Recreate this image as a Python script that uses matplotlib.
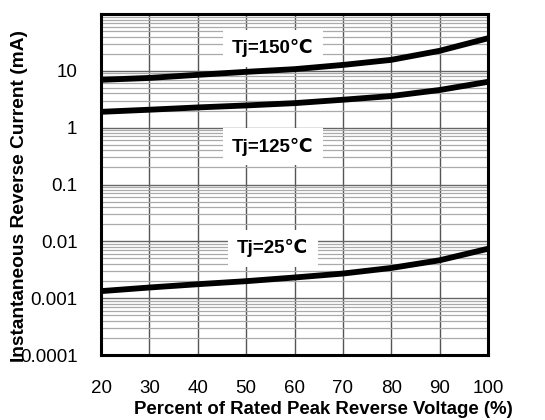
import matplotlib
matplotlib.use("Agg")
import matplotlib.pyplot as plt
from matplotlib.ticker import LogLocator, NullFormatter

voltage_pct = [20, 30, 40, 50, 60, 70, 80, 90, 100]
i_150 = [6.95, 7.5, 8.5, 9.6, 10.7, 12.7, 15.6, 22.5, 37.4]
i_125 = [1.9, 2.07, 2.27, 2.46, 2.7, 3.1, 3.6, 4.6, 6.4]
i_25 = [0.00133, 0.00154, 0.00176, 0.00199, 0.00231, 0.00271, 0.0034, 0.00464, 0.0074]
labels = ["Tj=150\u2103", "Tj=125\u2103", "Tj=25\u2103"]
label_y = [25, 0.46, 0.0075]
ytick_vals = [0.0001, 0.001, 0.01, 0.1, 1, 10]
ytick_labels = ["0.0001", "0.001", "0.01", "0.1", "1", "10"]
xtick_vals = [20, 30, 40, 50, 60, 70, 80, 90, 100]

fam = ["Liberation Sans", "DejaVu Sans"]
plt.rcParams["font.family"] = fam

fig = plt.figure(figsize=(5.45, 4.2), dpi=100)
ax = fig.add_axes([101/545, 1-355/420, 387/545, 341/420])
ax.set_yscale("log")
ax.set_xlim(20, 100)
ax.set_ylim(1e-4, 100)

ax.yaxis.set_minor_locator(LogLocator(base=10, subs=range(2, 10)))
ax.yaxis.set_minor_formatter(NullFormatter())
ax.set_yticks(ytick_vals, ytick_labels)
ax.set_xticks(xtick_vals, [str(v) for v in xtick_vals])
ax.tick_params(axis="both", which="both", length=0, labelsize=13.5)
ax.tick_params(axis="y", pad=17)
ax.tick_params(axis="x", pad=18)

ax.grid(True, axis="x", which="major", color="#555555", linewidth=1.0)
ax.grid(True, axis="y", which="major", color="#666666", linewidth=1.0)
ax.grid(True, axis="y", which="minor", color="#aaaaaa", linewidth=0.9)
ax.set_axisbelow(True)

for s in ax.spines.values():
    s.set_linewidth(2.2)
    s.set_color("black")

for series in (i_150, i_125, i_25):
    ax.plot(voltage_pct, series, color="black", linewidth=4.2,
            solid_capstyle="butt", solid_joinstyle="round", zorder=3)

for lab, yv in zip(labels, label_y):
    ax.text(55.5, yv, lab, ha="center", va="center", fontsize=13.5,
            fontweight="bold", family=fam, zorder=2.5,
            bbox=dict(facecolor="white", edgecolor="none",
                      boxstyle="square,pad=0.5"))

fig.text(20/545, 1-196/420, "Instantaneous Reverse Current (mA)", rotation=90,
         ha="center", va="center", fontsize=13.8, fontweight="bold")
fig.text(323/545, 1-409/420, "Percent of Rated Peak Reverse Voltage (%)",
         ha="center", va="center", fontsize=13.4, fontweight="bold")

fig.savefig("out.png", dpi=100)
